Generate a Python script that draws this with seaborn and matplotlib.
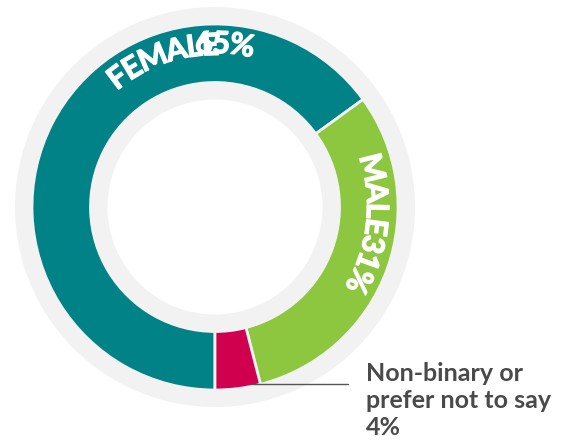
import numpy as np
import matplotlib
matplotlib.use('Agg')
import matplotlib.pyplot as plt
import matplotlib.patheffects as pe
import seaborn as sns

categories = ['FEMALE', 'MALE', 'Non-binary or\nprefer not to say']
shares = [65, 31, 4]
palette = ['#008286', '#8DC63F', '#D0004F']

sns.set_style('white')
plt.rcParams['font.family'] = ['Lato', 'DejaVu Sans']

fig = plt.figure(figsize=(5.75, 4.48), dpi=100)
ax = fig.add_axes([0, 0, 1, 1])

cx, cy = 215, 241
grey = '#F2F2F2'

# background ring
ax.pie([1], colors=[grey], center=(cx, cy), radius=200,
       wedgeprops=dict(width=92.5, linewidth=0), frame=True)
# data ring
ax.pie(shares, colors=palette, center=(cx, cy), radius=183, startangle=-90,
       counterclock=False,
       wedgeprops=dict(width=58.5, edgecolor=grey, linewidth=2), frame=True)
ax.set_xlim(0, 575)
ax.set_ylim(0, 448)
ax.set_aspect('equal')
ax.axis('off')

renderer = fig.canvas.get_renderer()


def arc_text(s, r, start_deg, track=0.93, **kw):
    # letters placed one by one along the ring, clockwise
    theta = np.radians(start_deg)
    for ch in s:
        t = ax.text(0, 0, ch, ha='center', va='baseline', rotation_mode='anchor', **kw)
        w = t.get_window_extent(renderer).width * track
        mid = theta - (w / 2) / r
        t.set_position((cx + r * np.cos(mid), cy + r * np.sin(mid)))
        t.set_rotation(np.degrees(mid) - 90)
        theta -= w / r


lab = dict(color='white', fontsize=22, fontweight='bold',
           path_effects=[pe.withStroke(linewidth=0.9, foreground='white')])
arc_text(categories[0], 152, 130, **lab)
arc_text(f'{shares[0]}%', 154, 97, **lab)
arc_text(categories[1] + f'{shares[1]}%', 152, 19, **lab)

# leader for the small slice
ax.plot([252, 348], [64, 64], color='#555555', lw=1)
ax.text(366, 86, f'{categories[2]}\n{shares[2]}%', ha='left', va='top',
        fontsize=18, fontweight='bold', color='#4A4A4A', linespacing=1.2)

fig.savefig('out.png', dpi=100)
